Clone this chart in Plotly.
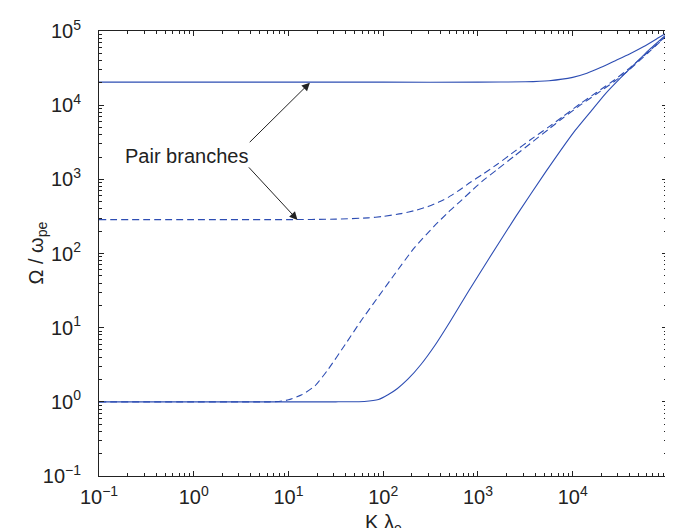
import plotly.graph_objects as go

# ---- data ----
# upper pair branch (solid, starts near 2e4)
k_pair_hi = [0.1, 1, 10, 100, 1000, 3162, 5623, 10000, 14130, 19950, 28180, 39810, 56230, 79430, 97720]
w_pair_hi = [20420, 20420, 20420, 20420, 20420, 20650, 21380, 23710, 26920, 32360, 39810,
             48980, 61660, 80350, 94410]

# lower pair branch (dashed, starts near 2.9e2)
k_pair_lo = [0.1, 1, 10, 31.62, 69.18, 100, 154.9, 223.9, 295.1, 398.1, 489.8, 645.7, 831.8,
             1096, 1585, 2455, 3548, 5495, 7943, 12300, 17780, 27540, 39810, 61660, 97720]
w_pair_lo = [286.4, 286.4, 286.4, 290.4, 302.0, 316.2, 345.1, 384.6, 428.5, 501.2, 575.4, 724.4,
             912.0, 1148, 1585, 2399, 3388, 5012, 7079, 10720, 14790, 21880, 31620, 51290, 87100]

# electron-like branch (dashed, starts at 1)
k_e_dash = [0.1, 1, 6.31, 7.943, 10, 13.80, 19.05, 26.30, 39.81, 58.88, 89.13, 131.8, 213.8,
            346.7, 489.8, 645.7, 831.8, 1096, 1585, 2455, 3548, 5495, 7943, 12300, 17780,
            27540, 39810, 61660, 97720]
w_e_dash = [1, 1, 1, 1.0116, 1.064, 1.242, 1.644, 2.754, 5.970, 12.59, 26.30, 52.48, 120.2,
            235.5, 363.1, 501.2, 676.1, 933.3, 1349, 2089, 3020, 4677, 6761, 10230, 14130,
            20890, 30200, 50120, 86100]

# electron-like branch (solid, starts at 1)
k_e_solid = [0.1, 1, 10, 31.62, 63.10, 89.13, 112.2, 141.3, 182.0, 251.2, 354.8, 501.2, 794.3,
             1259, 2512, 5248, 10470, 15850, 21880, 31620, 44670, 63100, 97720]
w_e_solid = [1, 1, 1, 1, 1.0116, 1.072, 1.242, 1.514, 2.018, 3.214, 5.888, 11.75, 30.90,
             79.43, 316.2, 1288, 4467, 8511, 14000, 22910, 35480, 54950, 90160]

x_tick_vals = [0.1, 1, 10, 100, 1000, 10000]
x_tick_text = ["10<sup>−1</sup>", "10<sup>0</sup>", "10<sup>1</sup>", "10<sup>2</sup>",
               "10<sup>3</sup>", "10<sup>4</sup>"]
y_tick_vals = [0.1, 1, 10, 100, 1000, 10000, 100000]
y_tick_text = ["10<sup>−1</sup>", "10<sup>0</sup>", "10<sup>1</sup>", "10<sup>2</sup>",
               "10<sup>3</sup>", "10<sup>4</sup>", "10<sup>5</sup>"]

x_title = "K λ<sub>e</sub>"
y_title = "Ω / ω<sub>pe</sub>"
note_text = "Pair branches"

# ---- style ----
BLUE = "#2d4db3"
INK = "#222222"
FONT = "Liberation Sans, Arial, Helvetica, sans-serif"
FS = 20

minor_vals = [m * 10.0 ** e for e in range(-1, 5) for m in range(2, 10)]

fig = go.Figure()
line_common = dict(shape="spline", smoothing=0.5, color=BLUE, width=1.1)
fig.add_trace(go.Scatter(x=k_pair_hi, y=w_pair_hi, mode="lines",
                         line=dict(**line_common, dash="solid")))
fig.add_trace(go.Scatter(x=k_pair_lo, y=w_pair_lo, mode="lines",
                         line=dict(**line_common, dash="7px,4px")))
fig.add_trace(go.Scatter(x=k_e_dash, y=w_e_dash, mode="lines",
                         line=dict(**line_common, dash="7px,4px")))
fig.add_trace(go.Scatter(x=k_e_solid, y=w_e_solid, mode="lines",
                         line=dict(**line_common, dash="solid")))

axis_common = dict(
    type="log", showgrid=False, zeroline=False, automargin=False,
    showline=True, linecolor=INK, linewidth=1, mirror="ticks",
    ticks="inside", ticklen=5, tickwidth=1, tickcolor=INK,
    tickmode="array",
    tickfont=dict(family=FONT, size=FS, color=INK),
)

fig.update_xaxes(**axis_common, range=[-1, 4.995],
                 tickvals=x_tick_vals, ticktext=x_tick_text, ticklabelstandoff=3,
                 minor=dict(tickmode="array", tickvals=minor_vals, ticks="inside",
                            ticklen=3, tickwidth=1, tickcolor=INK))
fig.update_yaxes(**axis_common, range=[-1, 5],
                 tickvals=y_tick_vals, ticktext=y_tick_text, ticklabelstandoff=13,
                 minor=dict(tickmode="array", tickvals=minor_vals, ticks="inside",
                            ticklen=3, tickwidth=1, tickcolor=INK))

annotations = [
    # arrow to the upper solid pair branch
    dict(x=1.226, y=4.303, xref="x", yref="y", ax=-61.7, ay=61, axref="pixel", ayref="pixel",
         showarrow=True, arrowhead=2, arrowsize=1.6, arrowwidth=1, arrowcolor=INK, text="",
         standoff=0),
    # arrow to the dashed pair branch
    dict(x=1.095, y=2.453, xref="x", yref="y", ax=-50, ay=-54, axref="pixel", ayref="pixel",
         showarrow=True, arrowhead=2, arrowsize=1.6, arrowwidth=1, arrowcolor=INK, text="",
         standoff=0),
    dict(x=-0.079, y=3.315, xref="x", yref="y", text=note_text, showarrow=False,
         font=dict(family=FONT, size=FS, color=INK), xanchor="center", yanchor="middle"),
    dict(x=0.5, y=0, xref="paper", yref="paper", text=x_title, showarrow=False,
         font=dict(family=FONT, size=FS, color=INK), xanchor="center", yanchor="top",
         yshift=-33),
    dict(x=0, y=0.5, xref="paper", yref="paper", text=y_title, showarrow=False,
         font=dict(family=FONT, size=FS, color=INK), textangle=-90,
         xanchor="center", yanchor="middle", xshift=-62),
]

fig.update_layout(
    width=673, height=528,
    margin=dict(l=91, r=14, t=23, b=60),
    paper_bgcolor="white", plot_bgcolor="white",
    showlegend=False,
    annotations=annotations,
    font=dict(family=FONT, color=INK),
)

fig.write_html("out.html")
